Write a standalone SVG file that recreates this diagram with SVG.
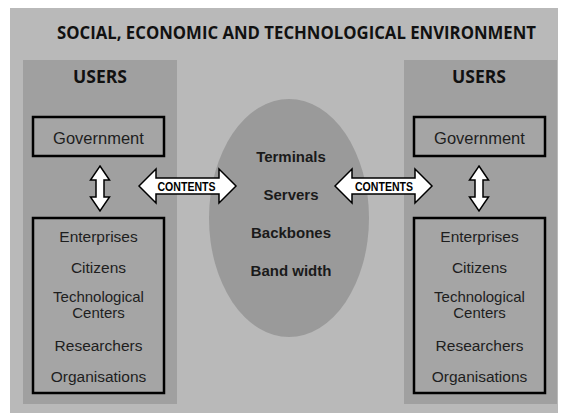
<svg xmlns="http://www.w3.org/2000/svg" width="561" height="413" viewBox="0 0 561 413">
<style>
.bg{fill:#b9b9b9}
.panel{fill:#a0a0a0}
.box{fill:#a5a5a5;stroke:#000;stroke-width:2.5}
.hd{font-family:"Open Sans","Liberation Sans",sans-serif;font-weight:bold;fill:#111}
.it{font-family:"Liberation Sans",Arial,sans-serif;font-size:15.5px;fill:#1e1e1e;text-anchor:middle}
.gv{font-size:16.5px}
.tc{font-size:15px}
.el{font-family:"Liberation Sans",Arial,sans-serif;font-size:15px;font-weight:bold;fill:#1a1a1a;text-anchor:middle}
.arr{fill:#fff;stroke:#000;stroke-width:1.5;stroke-linejoin:miter}
.ct{font-family:"Liberation Sans",Arial,sans-serif;font-size:12.5px;font-weight:bold;fill:#000;text-anchor:middle}
</style>
<rect class="bg" x="10" y="8" width="548" height="405"/>
<text class="hd" x="296.5" y="39" font-size="17.5" text-anchor="middle" textLength="479" lengthAdjust="spacingAndGlyphs">SOCIAL, ECONOMIC AND TECHNOLOGICAL ENVIRONMENT</text>
<g id="users-left">
<rect class="panel" x="23" y="60" width="154" height="344"/>
<text class="hd" x="100" y="83" font-size="17" text-anchor="middle" textLength="54" lengthAdjust="spacingAndGlyphs">USERS</text>
</g>
<g id="users-right">
<rect class="panel" x="404" y="60" width="153" height="344"/>
<text class="hd" x="479" y="83" font-size="17" text-anchor="middle" textLength="54" lengthAdjust="spacingAndGlyphs">USERS</text>
</g>
<g id="gov-left">
<rect class="box" x="33" y="117" width="131" height="39"/>
<text class="it gv" x="98.5" y="144">Government</text>
</g>
<g id="gov-right">
<rect class="box" x="414" y="117" width="131" height="39"/>
<text class="it gv" x="479.5" y="144">Government</text>
</g>
<g id="list-left">
<rect class="box" x="33" y="218" width="131" height="175"/>
<text class="it" x="98.5" y="242">Enterprises</text>
<text class="it" x="98.5" y="273">Citizens</text>
<text class="it tc" x="98.5" y="302">Technological</text>
<text class="it tc" x="98.5" y="318">Centers</text>
<text class="it" x="98.5" y="351">Researchers</text>
<text class="it" x="98.5" y="382">Organisations</text>
</g>
<g id="list-right">
<rect class="box" x="414" y="218" width="131" height="175"/>
<text class="it" x="479.5" y="242">Enterprises</text>
<text class="it" x="479.5" y="273">Citizens</text>
<text class="it tc" x="479.5" y="302">Technological</text>
<text class="it tc" x="479.5" y="318">Centers</text>
<text class="it" x="479.5" y="351">Researchers</text>
<text class="it" x="479.5" y="382">Organisations</text>
</g>
<g id="network">
<ellipse cx="289" cy="218" rx="80" ry="119" fill="#9a9a9a"/>
<text class="el" x="291" y="162">Terminals</text>
<text class="el" x="291" y="200">Servers</text>
<text class="el" x="291" y="238">Backbones</text>
<text class="el" x="291" y="276">Band width</text>
</g>
<g id="connectors">
<path class="arr" d="M100,166 L109.5,180 L104,180 L104,197 L109.5,197 L100,211 L90.5,197 L96,197 L96,180 L90.5,180 Z"/>
<path class="arr" d="M479,166 L488.5,180 L483,180 L483,197 L488.5,197 L479,211 L469.5,197 L475,197 L475,180 L469.5,180 Z"/>
<path class="arr" d="M139,186 L156,169 L156,178 L219,178 L219,169 L236,186 L219,203 L219,194 L156,194 L156,203 Z"/>
<text class="ct" x="186.5" y="190.5" textLength="58" lengthAdjust="spacingAndGlyphs">CONTENTS</text>
<path class="arr" d="M335,186 L352,169 L352,178 L415,178 L415,169 L432,186 L415,203 L415,194 L352,194 L352,203 Z"/>
<text class="ct" x="384" y="190.5" textLength="58" lengthAdjust="spacingAndGlyphs">CONTENTS</text>
</g>
</svg>
